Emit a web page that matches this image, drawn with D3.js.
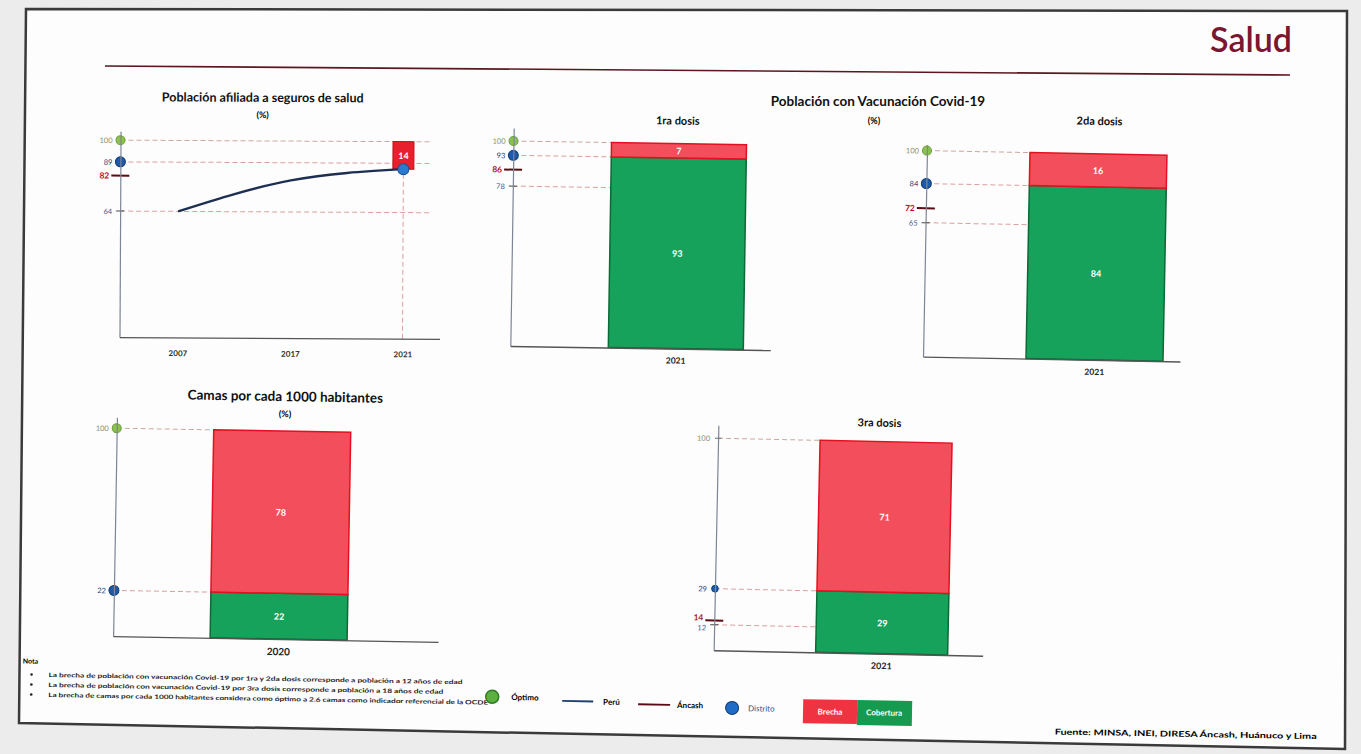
<!DOCTYPE html>
<html><head><meta charset="utf-8">
<script src="https://cdn.jsdelivr.net/npm/d3@7"></script>
<style>
body{margin:0;background:#ececec;}
svg{display:block;font-family:Lato,'Open Sans',sans-serif;}
</style>
</head><body>
<svg id="c" width="1361" height="754"></svg>
<script>
// ---------------- DATA ----------------
const markerKinds = ["Óptimo", "Distrito", "Áncash", "Perú"];

// Población afiliada a seguros de salud (%)
const afilYears = ["2007", "2017", "2021"];
const afilPeru = [64, 80, 86];
const afilBrecha = [14];
const afilMarkers = [100, 89, 82, 64];

// Vacunación Covid-19 — 1ra dosis (%)
const dosis1Years = ["2021"];
const dosis1Cobertura = [93];
const dosis1Brecha = [7];
const dosis1Markers = [100, 93, 86, 78];

// 2da dosis (%)
const dosis2Years = ["2021"];
const dosis2Cobertura = [84];
const dosis2Brecha = [16];
const dosis2Markers = [100, 84, 72, 65];

// 3ra dosis (%)
const dosis3Years = ["2021"];
const dosis3Cobertura = [29];
const dosis3Brecha = [71];
const dosis3Markers = [100, 29, 14, 12];

// Camas por cada 1000 habitantes (%)
const camasYears = ["2020"];
const camasCobertura = [22];
const camasBrecha = [78];
const camasMarkers = [100, 22, null, null];

const legendLabels = ["Óptimo", "Perú", "Áncash", "Distrito", "Brecha", "Cobertura"];
const notes = [
  "La brecha de población con vacunación Covid-19 por 1ra y 2da dosis corresponde a población a 12 años de edad",
  "La brecha de población con vacunación Covid-19 por 3ra dosis corresponde a población a 18 años de edad",
  "La brecha de camas por cada 1000 habitantes considera como óptimo a 2.6 camas como indicador referencial de la OCDE"
];
const sourceText = "Fuente: MINSA, INEI, DIRESA Áncash, Huánuco y Lima";

// ---------------- STYLE ----------------
const C = {
  red: "#f24e5c", redStroke: "#e3111f",
  green: "#17a25c", greenStroke: "#0b6a36",
  maroon: "#7a1630", peru: "#1c2f52", ancash: "#5a0c14",
  distrito: "#1f5aa8", optimo: "#8cc152",
  grid: "#dca0a0", axis: "#7d8596"
};

const svg = d3.select("#c");

// slide frame
svg.append("path")
  .attr("d", "M26,9 L1347,11 L1345,749 L19,723 Z")
  .attr("fill", "#fdfdfd").attr("stroke", "#3a3a3a").attr("stroke-width", 2.5);

// header
svg.append("text").attr("x", 1292).attr("y", 52).attr("text-anchor", "end")
  .attr("font-size", 34).attr("fill", C.maroon).attr("font-weight", 600).text("Salud");
svg.append("line").attr("x1", 105).attr("y1", 66).attr("x2", 1290).attr("y2", 75)
  .attr("stroke", "#5b1620").attr("stroke-width", 1.6);

// ---------------- HELPERS ----------------
function title(g, x, y, txt, size) {
  g.append("text").attr("x", x).attr("y", y).attr("text-anchor", "middle")
    .attr("font-size", size).attr("font-weight", 700).attr("fill", "#111").text(txt);
}

function drawMarkers(g, y, axisX, vals, gridR, opt) {
  const labels = [];
  vals.forEach((v, i) => {
    if (v == null) return;
    const kind = markerKinds[i];
    const yy = y(v);
    if (kind !== "Áncash") {
      g.append("line").attr("x1", axisX).attr("x2", gridR).attr("y1", yy).attr("y2", yy)
        .attr("stroke", kind === "Óptimo" ? "#c9a9a0" : C.grid).attr("stroke-width", 1)
        .attr("stroke-dasharray", "5,3");
    }
    let lx = axisX - 8, col = "#555", fw = 400, fs = 7.5;
    if (kind === "Óptimo") {
      col = "#8a8f6a";
      if (opt.optimoDot) {
        g.append("circle").attr("cx", axisX).attr("cy", yy).attr("r", 4.5)
          .attr("fill", C.optimo).attr("stroke", "#6a9f3a");
      } else {
        g.append("line").attr("x1", axisX - 3).attr("x2", axisX + 3).attr("y1", yy).attr("y2", yy).attr("stroke", "#666");
      }
    } else if (kind === "Distrito") {
      col = "#1e3f7a";
      g.append("circle").attr("cx", axisX).attr("cy", yy).attr("r", opt.distR)
        .attr("fill", C.distrito).attr("stroke", "#0d3a75");
    } else if (kind === "Áncash") {
      col = "#b3121f"; fw = 700; fs = 8.5; lx = axisX - 11;
      g.append("line").attr("x1", axisX - 9).attr("x2", axisX + 9).attr("y1", yy).attr("y2", yy)
        .attr("stroke", C.ancash).attr("stroke-width", 2);
    } else {
      col = "#3d5a8f";
      g.append("line").attr("x1", axisX - 4).attr("x2", axisX + 4).attr("y1", yy).attr("y2", yy)
        .attr("stroke", "#444").attr("stroke-width", 1);
    }
    labels.push({ v, yy, ly: yy, lx, col, fw, fs });
  });
  // keep labels from overlapping
  labels.sort((a, b) => a.yy - b.yy);
  for (let k = 1; k < labels.length; k++) {
    const gap = labels[k].ly - labels[k - 1].ly;
    if (gap < 10) {
      const d = (10 - gap) / 2;
      labels[k - 1].ly -= d; labels[k].ly += d;
    }
  }
  labels.forEach(l => {
    g.append("text").attr("x", l.lx).attr("y", l.ly + 3).attr("text-anchor", "end")
      .attr("font-size", l.fs).attr("font-weight", l.fw).attr("fill", l.col).text(l.v);
  });
}

function axes(g, axisX, top, bottom, right) {
  g.append("g").attr("transform", `translate(${axisX},0)`)
    .call(d3.axisLeft(d3.scaleLinear().range([bottom, top])).tickValues([]).tickSizeOuter(0))
    .select(".domain").attr("stroke", C.axis).attr("stroke-width", 1.2);
  g.append("g").attr("transform", `translate(0,${bottom})`)
    .call(d3.axisBottom(d3.scaleLinear().range([axisX, right])).tickValues([]).tickSizeOuter(0))
    .select(".domain").attr("stroke", "#555").attr("stroke-width", 1.4);
}

function barPanel(o) {
  const g = svg.append("g").attr("transform", `rotate(${o.rot},${o.cx},${o.cy})`);
  const y = d3.scaleLinear().domain([0, 100]).range([o.bottom, o.y100]);
  const x = d3.scaleBand().domain(o.years).range([o.barL, o.barR]).padding(0);
  title(g, o.titleX, o.titleY, o.title, o.titleSize);
  if (o.sub) g.append("text").attr("x", o.titleX).attr("y", o.titleY + 16).attr("text-anchor", "middle")
    .attr("font-size", 9).attr("font-weight", 700).text(o.sub);
  drawMarkers(g, y, o.axisX, o.markers, o.barL, { optimoDot: o.optimoDot, distR: o.distR });
  o.years.forEach((yr, i) => {
    const cob = o.cob[i], br = o.brecha[i];
    g.append("rect").attr("x", x(yr)).attr("width", x.bandwidth())
      .attr("y", y(cob)).attr("height", y(0) - y(cob))
      .attr("fill", C.green).attr("stroke", C.greenStroke).attr("stroke-width", 1.5);
    g.append("rect").attr("x", x(yr)).attr("width", x.bandwidth())
      .attr("y", y(cob + br)).attr("height", y(cob) - y(cob + br))
      .attr("fill", C.red).attr("stroke", C.redStroke).attr("stroke-width", 1.5);
    const cx = x(yr) + x.bandwidth() / 2;
    g.append("text").attr("x", cx).attr("y", (y(0) + y(cob)) / 2 + 3.5).attr("text-anchor", "middle")
      .attr("font-size", 9).attr("font-weight", 700).attr("fill", "#fff").text(cob);
    g.append("text").attr("x", cx).attr("y", (y(cob) + y(cob + br)) / 2 + 3.5).attr("text-anchor", "middle")
      .attr("font-size", 9).attr("font-weight", 700).attr("fill", "#fff").text(br);
  });
  axes(g, o.axisX, o.top, o.bottom, o.right);
  const xa = g.append("g").attr("transform", `translate(0,${o.bottom + 6})`)
    .call(d3.axisBottom(x).tickSize(0));
  xa.select(".domain").remove();
  xa.selectAll("text").attr("font-size", o.yearSize).attr("font-weight", 700)
    .attr("fill", "#222").attr("font-family", "Lato,sans-serif");
}

// ---------------- CHART 1: line ----------------
(function () {
  const g = svg.append("g").attr("transform", "rotate(0.3,280,240)");
  const axisX = 120, top = 132, bottom = 338, right = 440;
  const y = d3.scaleLinear().domain([0, 100]).range([bottom, 141]);
  const x = d3.scalePoint().domain(afilYears).range([178, 403]);
  title(g, 262, 102, "Población afiliada a seguros de salud", 12.5);
  g.append("text").attr("x", 262).attr("y", 118).attr("text-anchor", "middle")
    .attr("font-size", 9).attr("font-weight", 700).text("(%)");
  drawMarkers(g, y, axisX, afilMarkers, 430, { optimoDot: true, distR: 5 });
  const last = afilYears[afilYears.length - 1];
  g.append("line").attr("x1", x(last)).attr("x2", x(last)).attr("y1", y(100)).attr("y2", bottom)
    .attr("stroke", C.grid).attr("stroke-dasharray", "5,3");
  const lastVal = afilPeru[afilPeru.length - 1];
  g.append("rect").attr("x", x(last) - 10.5).attr("width", 21)
    .attr("y", y(lastVal + afilBrecha[0])).attr("height", y(lastVal) - y(lastVal + afilBrecha[0]))
    .attr("fill", "#e8202e").attr("stroke", "#c0101c");
  g.append("text").attr("x", x(last)).attr("y", (y(lastVal) + y(lastVal + afilBrecha[0])) / 2 + 3.5)
    .attr("text-anchor", "middle").attr("font-size", 9).attr("font-weight", 700).attr("fill", "#fff").text(afilBrecha[0]);
  g.append("path").datum(afilPeru)
    .attr("d", d3.line().x((d, i) => x(afilYears[i])).y(d => y(d)).curve(d3.curveMonotoneX))
    .attr("fill", "none").attr("stroke", C.peru).attr("stroke-width", 2.3);
  g.append("circle").attr("cx", x(last)).attr("cy", y(lastVal)).attr("r", 5.5)
    .attr("fill", "#2a7ad2").attr("stroke", "#1a4f95");
  axes(g, axisX, top, bottom, right);
  const xa = g.append("g").attr("transform", `translate(0,${bottom + 10})`).call(d3.axisBottom(x).tickSize(0));
  xa.select(".domain").remove();
  xa.selectAll("text").attr("font-size", 8).attr("font-weight", 700).attr("fill", "#333").attr("font-family", "Lato,sans-serif");
})();

// Vacunación header
title(svg, 878, 106, "Población con Vacunación Covid-19", 13.5);
svg.append("text").attr("x", 874).attr("y", 124).attr("text-anchor", "middle")
  .attr("font-size", 9).attr("font-weight", 700).text("(%)");

barPanel({ title: "1ra dosis", titleX: 676, titleY: 124, titleSize: 11, years: dosis1Years,
  cob: dosis1Cobertura, brecha: dosis1Brecha, markers: dosis1Markers,
  axisX: 512, top: 130, bottom: 348, right: 772, barL: 610, barR: 745, y100: 143,
  yearSize: 8.5, rot: 0.9, cx: 640, cy: 240, optimoDot: true, distR: 5 });

barPanel({ title: "2da dosis", titleX: 1097, titleY: 124, titleSize: 11, years: dosis2Years,
  cob: dosis2Cobertura, brecha: dosis2Brecha, markers: dosis2Markers,
  axisX: 925, top: 147, bottom: 359, right: 1182, barL: 1028, barR: 1165, y100: 153,
  yearSize: 8.5, rot: 1.1, cx: 1050, cy: 255, optimoDot: true, distR: 5 });

barPanel({ title: "Camas por cada 1000 habitantes", sub: "(%)", titleX: 283, titleY: 401, titleSize: 13.5,
  years: camasYears, cob: camasCobertura, brecha: camasBrecha, markers: camasMarkers,
  axisX: 115, top: 420, bottom: 639, right: 440, barL: 212, barR: 349, y100: 431,
  yearSize: 10, rot: 1.0, cx: 277, cy: 530, optimoDot: true, distR: 5 });

barPanel({ title: "3ra dosis", titleX: 877, titleY: 426, titleSize: 11, years: dosis3Years,
  cob: dosis3Cobertura, brecha: dosis3Brecha, markers: dosis3Markers,
  axisX: 716, top: 428, bottom: 653, right: 985, barL: 818, barR: 950, y100: 441,
  yearSize: 9, rot: 1.2, cx: 850, cy: 540, optimoDot: false, distR: 3.2 });

// ---------------- FOOTER ----------------
const f = svg.append("g").attr("transform", "rotate(1.0,680,712)");
f.append("text").attr("x", 22).attr("y", 675).attr("font-size", 7).attr("font-weight", 700).text("Nota");
notes.forEach((t, i) => {
  const yy = 688 + i * 10;
  f.append("circle").attr("cx", 31).attr("cy", yy - 2.2).attr("r", 1.3).attr("fill", "#222");
  f.append("text").attr("x", 48).attr("y", yy).attr("font-size", 6).attr("font-weight", 700)
    .attr("fill", "#222").attr("textLength", [414, 395, 440][i]).attr("lengthAdjust", "spacingAndGlyphs").text(t);
});
// legend
f.append("circle").attr("cx", 492).attr("cy", 700).attr("r", 6.5).attr("fill", "#5cb040").attr("stroke", "#2f7a25").attr("stroke-width", 1.5);
f.append("text").attr("x", 511).attr("y", 703).attr("font-size", 8).attr("font-weight", 700).text(legendLabels[0]);
f.append("line").attr("x1", 562).attr("x2", 593).attr("y1", 703).attr("y2", 703).attr("stroke", "#1f3f70").attr("stroke-width", 1.8);
f.append("text").attr("x", 603).attr("y", 706).attr("font-size", 8).attr("font-weight", 700).text(legendLabels[1]);
f.append("line").attr("x1", 638).attr("x2", 670).attr("y1", 705).attr("y2", 705).attr("stroke", "#5a0c14").attr("stroke-width", 1.8);
f.append("text").attr("x", 677).attr("y", 708).attr("font-size", 8).attr("font-weight", 700).text(legendLabels[2]);
f.append("circle").attr("cx", 732).attr("cy", 707).attr("r", 6.5).attr("fill", "#1e6cc6").attr("stroke", "#0d3a75");
f.append("text").attr("x", 748).attr("y", 710).attr("font-size", 8).attr("fill", "#2b4c8a").text(legendLabels[3]);
f.append("rect").attr("x", 803).attr("y", 697).attr("width", 54).attr("height", 24).attr("fill", "#ef3340");
f.append("text").attr("x", 830).attr("y", 712).attr("text-anchor", "middle").attr("font-size", 8).attr("font-weight", 700).attr("fill", "#fff").text(legendLabels[4]);
f.append("rect").attr("x", 857).attr("y", 697).attr("width", 55).attr("height", 25).attr("fill", "#169a50");
f.append("text").attr("x", 884).attr("y", 712).attr("text-anchor", "middle").attr("font-size", 8).attr("font-weight", 700).attr("fill", "#fff").text(legendLabels[5]);
// source
f.append("text").attr("x", 1055).attr("y", 728).attr("font-size", 8).attr("font-weight", 700)
  .attr("textLength", 262).attr("lengthAdjust", "spacingAndGlyphs").text(sourceText);
</script>
</body></html>
